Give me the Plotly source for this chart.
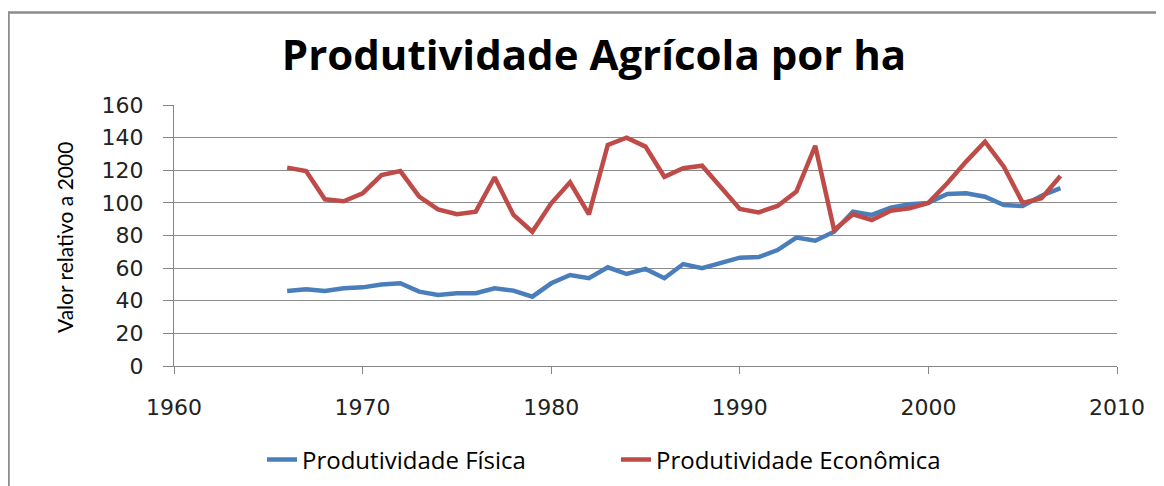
import plotly.graph_objects as go

years = list(range(1966, 2008))
fisica = [46, 47, 46, 47.6, 48.2, 50, 50.7, 45.6, 43.5, 44.6, 44.6, 47.6, 46.2, 42.5,
          50.7, 55.8, 53.8, 60.5, 56.4, 59.5, 53.8, 62.5, 59.9, 62.9, 66.4, 66.8, 71.1,
          78.7, 76.8, 82.3, 94.6, 92.6, 97.1, 99.1, 100, 105.5, 105.9, 103.8, 98.7, 98.1,
          104.4, 109]
economica = [121.6, 119.5, 102.2, 101, 105.9, 117, 119.5, 103.8, 96, 93, 94.6, 115.7, 92.6,
             82.3, 99.7, 112.6, 93, 135.5, 140, 134.5, 116, 121.2, 122.8, 110, 96.3, 94.2,
             98.1, 106.9, 135, 83.4, 93, 89.5, 95.2, 96.7, 100, 112, 125.3, 137.5, 122.2,
             100, 102.8, 116.5]

W, H = 1164, 486
OFF = 8  # page offset of the figure inside the browser window
# desired plot-area edges in window pixels
PX0, PX1, PY0, PY1 = 174, 1117, 105, 366
L = PX0 - OFF
T = PY0 - OFF
R = W - (PX1 - OFF)
B = H - (PY1 - OFF)
pw = W - L - R
ph = H - T - B


def cx(px):
    return (px - OFF) / W


def cy(py):
    return 1 - (py - OFF) / H


fig = go.Figure()
fig.add_trace(go.Scatter(x=years, y=fisica, mode="lines", name="Produtividade Física",
                         line=dict(color="#4A7EBB", width=4.5)))
fig.add_trace(go.Scatter(x=years, y=economica, mode="lines", name="Produtividade Econômica",
                         line=dict(color="#BE4B48", width=4.5)))

# chart frame (gray border)
fig.add_shape(type="rect", xref="paper", yref="paper",
              x0=(8.5 - PX0) / pw, x1=(W + 40 - PX0) / pw,
              y0=-(H + 40 - PY1) / ph, y1=(PY1 - 12.5) / ph,
              line=dict(color="#8C8C8C", width=2.5), fillcolor="rgba(0,0,0,0)", layer="below")

# y-axis title
fig.add_annotation(text="Valor relativo a 2000", textangle=-90,
                   xref="paper", yref="paper", showarrow=False,
                   x=(64 - PX0) / pw, y=(PY1 - 238) / ph, xanchor="center", yanchor="middle",
                   font=dict(family="Lato", size=21, color="black"))

fig.update_layout(
    width=W, height=H,
    margin=dict(l=L, r=R, t=T, b=B),
    paper_bgcolor="white", plot_bgcolor="white",
    title=dict(text="<b>Produtividade Agrícola por ha</b>", x=cx(594), xanchor="center",
               xref="container", y=cy(55), yref="container", yanchor="middle",
               font=dict(family="Open Sans", size=42, color="black")),
    legend=dict(orientation="h", x=cx(262), xanchor="left", xref="container",
                y=cy(460), yref="container", yanchor="middle",
                font=dict(family="Open Sans", size=24, color="black"),
                entrywidth=309, itemwidth=30),
    showlegend=True,
)
fig.update_xaxes(range=[1960, 2010], dtick=10, tick0=1960, showgrid=False,
                 showline=True, linecolor="#868686", linewidth=1,
                 ticks="outside", ticklen=7, tickcolor="#868686",
                 ticklabelstandoff=15,
                 tickfont=dict(family="DejaVu Sans", size=22, color="#222"), zeroline=False)
fig.update_yaxes(range=[0, 160], dtick=20, tick0=0, showgrid=True, gridcolor="#8C8C8C",
                 gridwidth=1, showline=True, linecolor="#868686", linewidth=1,
                 ticks="outside", ticklen=10, tickcolor="#868686",
                 ticklabelstandoff=15,
                 tickfont=dict(family="DejaVu Sans", size=22, color="#222"), zeroline=False)

fig.write_html("out.html")
